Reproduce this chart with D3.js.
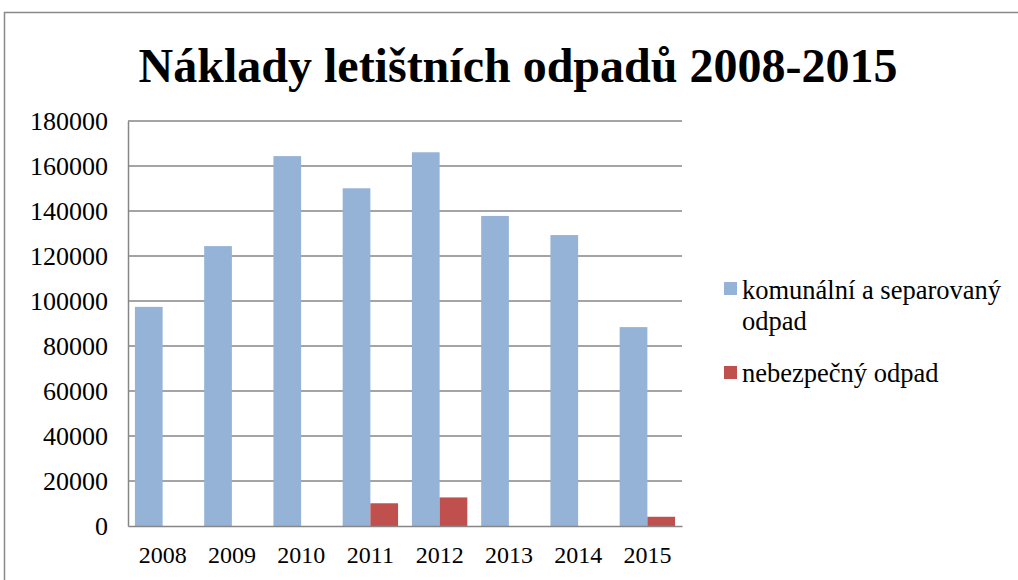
<!DOCTYPE html>
<html>
<head>
<meta charset="utf-8">
<script src="https://cdnjs.cloudflare.com/ajax/libs/d3/7.8.5/d3.min.js"></script>
<style>
body { margin: 0; background: #fff; }
#canvas { display: block; }
</style>
</head>
<body>
<svg id="canvas" width="1018" height="580"></svg>
<script>
// data
var years = ["2008", "2009", "2010", "2011", "2012", "2013", "2014", "2015"];
var komunalni = [97400, 124400, 164400, 150100, 166100, 137800, 129300, 88400];
var nebezpecny = [0, 0, 0, 10100, 12700, 0, 0, 4100];
var seriesNames = ["komunální a separovaný", "nebezpečný odpad"];
var seriesColors = ["#95b3d7", "#c0504d"];
var yTicks = [0, 20000, 40000, 60000, 80000, 100000, 120000, 140000, 160000, 180000];

var svg = d3.select("#canvas");
var font = "'Liberation Serif', 'Times New Roman', serif";

// outer chart border
svg.append("path")
    .attr("d", "M4.5,580 L4.5,12.5 L1018,12.5")
    .attr("fill", "none")
    .attr("stroke", "#898989")
    .attr("stroke-width", 1.5);

svg.append("text")
    .attr("x", 518)
    .attr("y", 82)
    .attr("text-anchor", "middle")
    .attr("font-family", font)
    .attr("font-weight", "bold")
    .attr("font-size", 48)
    .text("Náklady letištních odpadů 2008-2015");

var plotL = 128, plotR = 682, plotT = 121, plotB = 526;

var x = d3.scaleBand().domain(years).range([plotL, plotR]).paddingInner(0).paddingOuter(0);
var y = d3.scaleLinear().domain([0, 180000]).range([plotB, plotT]);

// gridlines
svg.append("g").selectAll("line")
    .data(yTicks.filter(function(d) { return d > 0; }))
    .enter().append("line")
    .attr("x1", plotL).attr("x2", plotR)
    .attr("y1", function(d) { return y(d); })
    .attr("y2", function(d) { return y(d); })
    .attr("stroke", "#868686")
    .attr("stroke-width", 1.5);

var bw = x.bandwidth();
var barW = bw / 2.5;
var gap = (bw - 2 * barW) / 2;

var table = years.map(function(yr, i) { return { year: yr, v: [komunalni[i], nebezpecny[i]] }; });

[0, 1].forEach(function(s) {
    svg.append("g").selectAll("rect")
        .data(table.filter(function(d) { return d.v[s] > 0; }))
        .enter().append("rect")
        .attr("x", function(d) { return x(d.year) + gap + s * barW; })
        .attr("y", function(d) { return y(d.v[s]); })
        .attr("width", barW)
        .attr("height", function(d) { return plotB - y(d.v[s]); })
        .attr("fill", seriesColors[s]);
});

// axes
var yAxis = svg.append("g")
    .attr("transform", "translate(" + plotL + ",0)")
    .call(d3.axisLeft(y).tickValues(yTicks).tickSize(0).tickPadding(20).tickFormat(d3.format("d")));
yAxis.select(".domain").attr("stroke", "#868686").attr("stroke-width", 1.5);
yAxis.selectAll("text").attr("font-family", font).attr("font-size", 26).attr("fill", "#000").attr("dy", "0.33em");

var xAxis = svg.append("g")
    .attr("transform", "translate(0," + plotB + ")")
    .call(d3.axisBottom(x).tickSize(0).tickPadding(20));
xAxis.select(".domain").attr("stroke", "#868686").attr("stroke-width", 1.5);
xAxis.selectAll("text").attr("font-family", font).attr("font-size", 24).attr("fill", "#000");

// legend
var legend = svg.append("g");
legend.append("rect").attr("x", 724).attr("y", 282).attr("width", 13).attr("height", 13).attr("fill", seriesColors[0]);
legend.append("text").attr("x", 742).attr("y", 299)
    .attr("font-family", font).attr("font-size", 26.5)
    .text(seriesNames[0]);
legend.append("text").attr("x", 742).attr("y", 330)
    .attr("font-family", font).attr("font-size", 26.5)
    .text("odpad");
legend.append("rect").attr("x", 724).attr("y", 366).attr("width", 13).attr("height", 13).attr("fill", seriesColors[1]);
legend.append("text").attr("x", 742).attr("y", 382)
    .attr("font-family", font).attr("font-size", 26.5)
    .text(seriesNames[1]);
</script>
</body>
</html>
